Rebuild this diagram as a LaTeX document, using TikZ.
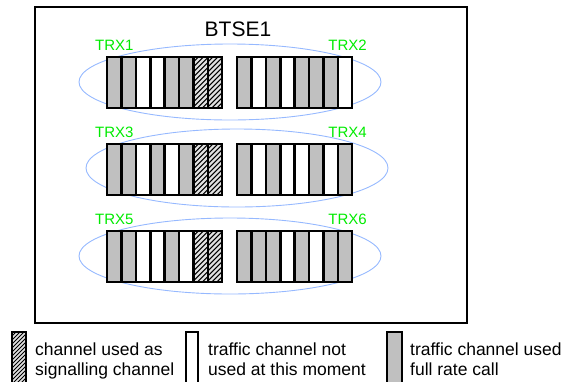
\documentclass[tikz,border=0pt]{standalone}
\usepackage{fontspec}
\setmainfont{Liberation Sans}
\definecolor{slotgray}{RGB}{192,192,192}
\definecolor{hatchbg}{RGB}{225,225,225}
\definecolor{ringblue}{RGB}{150,185,255}
\definecolor{trxgreen}{RGB}{0,235,0}
\tikzset{
  slot g/.style={fill=slotgray},
  slot w/.style={fill=white},
  slot h/.style={fill=hatchbg},
  ring/.style={draw=ringblue, line width=0.9pt},
  trxlabel/.style={text=trxgreen, inner sep=0pt, font=\fontsize{15}{15}\selectfont},
  legendtext/.style={inner sep=0pt, anchor=base west, font=\fontsize{17.5}{20}\selectfont},
  legendbox/.style={draw=black, line width=1.6pt},
}
\def\slotw{14.4}
\def\sloth{51}
\def\hatchkey{h}
% one carrier: eight time slots starting at (#1,#2), slot kinds in #3
\newcommand\carrier[3]{%
  \foreach \t [count=\i from 0] in {#3} {%
    \pgfmathsetmacro\xa{#1+\i*\slotw}%
    \fill[slot \t] (\xa,#2) rectangle ++(\slotw,\sloth);
    \ifx\t\hatchkey
      \begin{scope}
        \clip (\xa,#2) rectangle ++(\slotw,\sloth);
        \foreach \k in {-56,-51,...,16}
          \draw[line width=1pt] (\xa+\k,#2+\sloth) -- ++(\sloth,-\sloth);
      \end{scope}
    \fi
  }%
  \foreach \i in {1,...,7}
    \draw[line width=2.6pt] (#1+\i*\slotw,#2) -- ++(0,\sloth);
  \draw[line width=1.5pt] (#1,#2) rectangle ++(8*\slotw,\sloth);
}
\begin{document}
\begin{tikzpicture}[x=1pt,y=-1pt]
\useasboundingbox (0,0) rectangle (569,381);

% base station frame
\draw[line width=2pt] (35,7) rectangle (467,323);
\node[inner sep=0pt, anchor=base, font=\fontsize{21}{21}\selectfont] (btse) at (238,36) {BTSE1};

% carrier pairs grouped by ellipses
\draw[ring] (230,82) ellipse [x radius=151, y radius=38];
\draw[ring] (237,168) ellipse [x radius=151, y radius=39];
\draw[ring] (230,256) ellipse [x radius=151, y radius=38];

\carrier{107}{57}{g,g,w,w,g,g,h,h}
\carrier{237}{57}{g,w,g,w,g,g,g,w}
\carrier{107}{144}{g,g,w,g,w,g,h,h}
\carrier{237}{144}{g,w,g,w,w,g,w,g}
\carrier{107}{231}{g,g,w,w,g,w,h,h}
\carrier{237}{231}{g,g,g,w,g,w,g,g}

\node[trxlabel, anchor=base west] (trx1) at (95,50.5) {TRX1};
\node[trxlabel, anchor=base east] (trx2) at (367,50.5) {TRX2};
\node[trxlabel, anchor=base west] (trx3) at (95,137.5) {TRX3};
\node[trxlabel, anchor=base east] (trx4) at (367,137.5) {TRX4};
\node[trxlabel, anchor=base west] (trx5) at (95,224.5) {TRX5};
\node[trxlabel, anchor=base east] (trx6) at (367,224.5) {TRX6};

% legend
\fill[hatchbg] (12,332) rectangle (26,384);
\begin{scope}
  \clip (12,332) rectangle (26,384);
  \foreach \k in {-56,-52,...,16}
    \draw[line width=0.9pt] (12+\k,384) -- ++(52,-52);
\end{scope}
\draw[legendbox] (12,332) rectangle (26,384);
\draw[legendbox, fill=white] (186,332) rectangle (198,384);
\draw[legendbox, fill=slotgray] (387,332) rectangle (402,384);

\node[legendtext] (sig1) at (35,355) {channel used as};
\node[legendtext] (sig2) at (35,375) {signalling channel};
\node[legendtext] (idle1) at (208,355) {traffic channel not};
\node[legendtext] (idle2) at (208,375) {used at this moment};
\node[legendtext] (full1) at (410,355) {traffic channel used};
\node[legendtext] (full2) at (410,375) {full rate call};
\end{tikzpicture}
\end{document}
